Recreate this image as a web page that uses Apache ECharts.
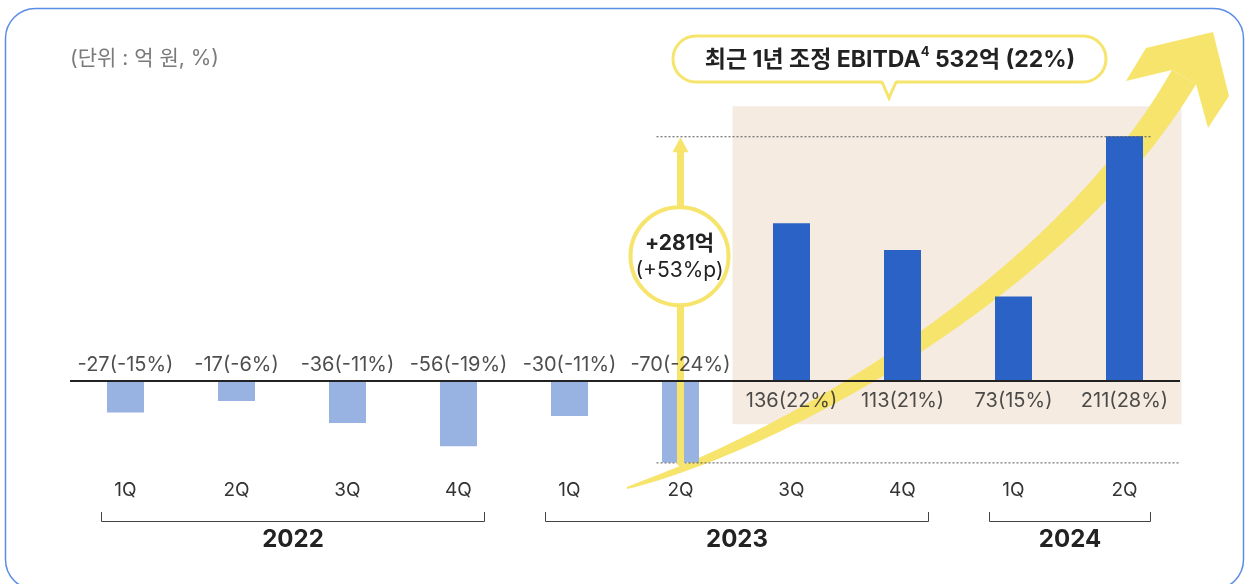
<!DOCTYPE html>
<html><head><meta charset="utf-8">
<script src="https://cdn.jsdelivr.net/npm/echarts@6/dist/echarts.min.js"></script>
<style>html,body{margin:0;padding:0;background:#fff}#c{width:1255px;height:584px}</style>
</head><body><div id="c"></div>
<script>
// ---- data ----
const quarters = ['1Q','2Q','3Q','4Q','1Q','2Q','3Q','4Q','1Q','2Q'];
const quarterYear = ['2022','2022','2022','2022','2023','2023','2023','2023','2024','2024'];
const ebitda = [-27,-17,-36,-56,-30,-70,136,113,73,211];
const marginPct = [-15,-6,-11,-19,-11,-24,22,21,15,28];
const years = ['2022','2023','2024'];
const unitText = '(단위 : 억 원, %)';
const calloutMain = '최근 1년 조정 EBITDA';
const calloutSup = '4';
const calloutTail = ' 532억 (22%)';
const deltaValue = '+281억';
const deltaPct = '(+53%p)';

const categories = quarters.map((q, i) => quarterYear[i] + ' ' + q);
const FONT = 'Inter, "Noto Sans CJK KR", sans-serif';
const YELLOW = '#f6e46c';

const chart = echarts.init(document.getElementById('c'), null, {renderer: 'canvas'});
chart.setOption({
  animation: false,
  backgroundColor: '#fff',
  grid: {left: 70, width: 1110, top: 91, height: 383},
  xAxis: {
    type: 'category', data: categories,
    axisLine: {show: false}, axisTick: {show: false},
    axisLabel: {formatter: v => v.split(' ')[1], margin: 7, fontSize: 19, color: '#333', fontFamily: FONT}
  },
  yAxis: {type: 'value', min: -80, max: 250, show: false},
  series: [
    {
      type: 'bar', data: ebitda, barWidth: 37, z: 2,
      itemStyle: {color: p => p.value < 0 ? '#98b2e2' : '#2b62c5'},
      emphasis: {disabled: true},
      markLine: {
        silent: true, symbol: 'none', data: [{yAxis: 0}],
        lineStyle: {color: '#222', width: 2, type: 'solid'}, label: {show: false}
      }
    },
    {
      type: 'scatter', z: 4, symbolSize: 1,
      itemStyle: {color: 'transparent'},
      data: ebitda.map((v, i) => ({
        value: [i, 0],
        label: {position: v < 0 ? 'top' : 'bottom', distance: v < 0 ? 5 : 8}
      })),
      label: {
        show: true, fontSize: 20, color: '#222', fontFamily: FONT, lineHeight: 22,
        formatter: p => ebitda[p.dataIndex] + '(' + marginPct[p.dataIndex] + '%)'
      }
    }
  ]
});

const px = i => chart.convertToPixel({xAxisIndex: 0}, i);
const py = v => chart.convertToPixel({yAxisIndex: 0}, v);
const y0 = py(0);
const yMax = py(Math.max(...ebitda));
const yMin = py(Math.min(...ebitda));
const gridRight = 70 + 1110;
const g = [];

// container border
g.push({type: 'rect', z: 0, shape: {x: 5.5, y: 8.5, width: 1238, height: 581, r: 30},
  style: {fill: 'none', stroke: '#5b8de4', lineWidth: 1.5}});

// unit text
g.push({type: 'text', z: 5, x: 70, y: 59, style: {text: unitText, fontSize: 21, fill: '#7a7a7a',
  fontFamily: FONT, verticalAlign: 'middle', align: 'left'}});

// beige highlight area
const firstPos = ebitda.findIndex(v => v > 0);
const bx1 = px(firstPos) - 59, bx2 = px(ebitda.length - 1) + 57;
g.push({type: 'rect', z: 0, shape: {x: bx1, y: yMax - 30, width: bx2 - bx1, height: (y0 + 43) - (yMax - 30)},
  style: {fill: '#f5ebe1'}});

// big curved arrow (tapered band)
const P = [[627, 488], [820, 428], [1075, 265], [1184, 77]];
function bez(t) {
  const a = (1 - t) ** 3, b = 3 * (1 - t) ** 2 * t, c = 3 * (1 - t) * t * t, d = t ** 3;
  return [a * P[0][0] + b * P[1][0] + c * P[2][0] + d * P[3][0], a * P[0][1] + b * P[1][1] + c * P[2][1] + d * P[3][1]];
}
function dbez(t) {
  const a = 3 * (1 - t) ** 2, b = 6 * (1 - t) * t, c = 3 * t * t;
  return [a * (P[1][0] - P[0][0]) + b * (P[2][0] - P[1][0]) + c * (P[3][0] - P[2][0]),
          a * (P[1][1] - P[0][1]) + b * (P[2][1] - P[1][1]) + c * (P[3][1] - P[2][1])];
}
const L = [], R = [];
const N = 100;
for (let k = 0; k <= N; k++) {
  const t = k / N;
  const p = bez(t), d = dbez(t);
  const len = Math.hypot(d[0], d[1]);
  const nx = -d[1] / len, ny = d[0] / len;
  const hw = (2 + 26 * Math.pow(t, 0.7)) / 2;
  L.push([p[0] + nx * hw, p[1] + ny * hw]);
  R.push([p[0] - nx * hw, p[1] - ny * hw]);
}
g.push({type: 'polygon', z: 1, shape: {points: L.concat(R.reverse())}, style: {fill: YELLOW}});
g.push({type: 'polygon', z: 1, shape: {points: [[1172, 70], [1126, 81], [1146, 48], [1213, 32], [1229, 96], [1208, 128], [1196, 84]]},
  style: {fill: YELLOW}});

// dotted reference lines
const dlx = px(5) - 24;
g.push({type: 'line', z: 3, shape: {x1: dlx, y1: yMax + 0.5, x2: px(ebitda.length - 1) + 26, y2: yMax + 0.5},
  style: {stroke: '#555', lineWidth: 1, lineDash: [2, 2]}});
g.push({type: 'line', z: 3, shape: {x1: dlx, y1: yMin + 0.5, x2: gridRight, y2: yMin + 0.5},
  style: {stroke: '#555', lineWidth: 1, lineDash: [2, 2]}});

// vertical growth arrow
const ax = px(5);
g.push({type: 'line', z: 3, shape: {x1: ax, y1: yMin, x2: ax, y2: yMax + 14},
  style: {stroke: YELLOW, lineWidth: 7, lineCap: 'round'}});
g.push({type: 'polygon', z: 3, shape: {points: [[ax - 8, yMax + 16], [ax + 8, yMax + 16], [ax, yMax + 1]]},
  style: {fill: YELLOW}});
g.push({type: 'circle', z: 6, shape: {cx: ax - 1, cy: y0 - 125, r: 49},
  style: {fill: '#fff', stroke: YELLOW, lineWidth: 4}});
g.push({type: 'text', z: 7, x: ax - 1, y: y0 - 124, style: {
  text: '{a|' + deltaValue + '}\n{b|' + deltaPct + '}', align: 'center', verticalAlign: 'middle',
  rich: {a: {fontSize: 21, fontWeight: 'bold', fill: '#222', fontFamily: FONT, lineHeight: 27, align: 'center'},
         b: {fontSize: 21, fill: '#222', fontFamily: FONT, lineHeight: 27, align: 'center'}}}});

// callout bubble
const cbx = 673, cby = 36, cbw = 433, cbh = 46, ptx = 889;
g.push({type: 'rect', z: 6, shape: {x: cbx, y: cby, width: cbw, height: cbh, r: 23},
  style: {fill: '#fff', stroke: YELLOW, lineWidth: 3}});
g.push({type: 'polygon', z: 7, shape: {points: [[ptx - 7, cby + cbh - 2], [ptx + 7, cby + cbh - 2], [ptx, cby + cbh + 15]]},
  style: {fill: '#fff'}});
g.push({type: 'polyline', z: 7, shape: {points: [[ptx - 7, cby + cbh], [ptx, cby + cbh + 16], [ptx + 7, cby + cbh]]},
  style: {stroke: YELLOW, lineWidth: 3, fill: 'none'}});
g.push({type: 'text', z: 8, x: ptx + 1, y: cby + cbh / 2 + 1, style: {
  text: '{b|' + calloutMain + '}{s|' + calloutSup + '}{b|' + calloutTail + '}', align: 'center', verticalAlign: 'middle',
  rich: {b: {fontSize: 23, fontWeight: 'bold', fill: '#222', fontFamily: FONT, lineHeight: 28},
         s: {fontSize: 13, fontWeight: 'bold', fill: '#222', fontFamily: FONT, lineHeight: 13, verticalAlign: 'top'}}}});

// year brackets
years.forEach(yr => {
  const idx = quarterYear.map((y, i) => y === yr ? i : -1).filter(i => i >= 0);
  const x1 = Math.round(px(idx[0]) - 25) + 0.5, x2 = Math.round(px(idx[idx.length - 1]) + 25) + 0.5;
  g.push({type: 'polyline', z: 3, shape: {points: [[x1, 512], [x1, 521.5], [x2, 521.5], [x2, 512]]},
    style: {stroke: '#444', lineWidth: 1, fill: 'none'}});
  g.push({type: 'text', z: 3, x: (x1 + x2) / 2, y: 540, style: {text: yr, fontSize: 24, fontWeight: 'bold',
    fill: '#222', fontFamily: FONT, align: 'center', verticalAlign: 'middle'}});
});

chart.setOption({graphic: g});
</script>
</body></html>
